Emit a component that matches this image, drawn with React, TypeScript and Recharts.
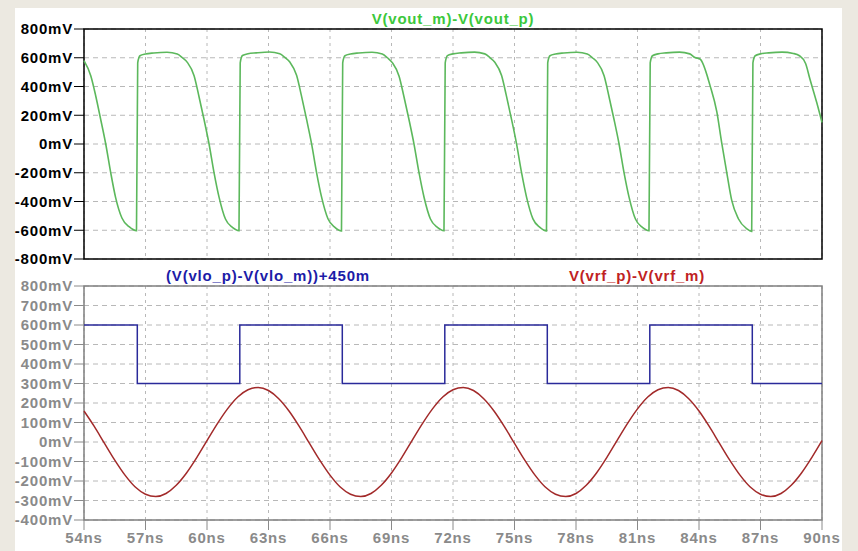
import { LineChart, Line, XAxis, YAxis, CartesianGrid, ReferenceArea } from 'recharts';

// time axis, ns
const timeTicks = [54, 57, 60, 63, 66, 69, 72, 75, 78, 81, 84, 87, 90];
// upper pane, mV
const voutTicks = [-800, -600, -400, -200, 0, 200, 400, 600, 800];
// lower pane, mV
const lowerTicks = [-400, -300, -200, -100, 0, 100, 200, 300, 400, 500, 600, 700, 800];

// V(vout_m)-V(vout_p)  [ns, mV]
const vout: [number, number][] = [
  [54.0, 580], [54.33, 475], [54.57, 336], [54.81, 174], [55.06, 0], [55.3, -197], [55.54, -371], [55.85, -515], [56.2, -575], [56.56, -603],
  [56.62, 565], [56.73, 614], [57.0, 626], [57.4, 633], [58.05, 638], [58.55, 626], [58.8, 600], [59.04, 568], [59.37, 475], [59.6, 336], [59.85, 174], [60.1, 0], [60.34, -197], [60.59, -371], [60.9, -522], [61.24, -580], [61.56, -603],
  [61.62, 565], [61.73, 616], [62.0, 628], [62.4, 634], [63.05, 640], [63.55, 628], [63.8, 602], [64.04, 570], [64.37, 478], [64.6, 340], [64.85, 176], [65.1, 2], [65.34, -195], [65.59, -370], [65.9, -520], [66.24, -580], [66.56, -605],
  [66.62, 565], [66.73, 614], [67.0, 626], [67.4, 633], [68.05, 638], [68.55, 626], [68.8, 600], [69.04, 566], [69.37, 472], [69.6, 334], [69.85, 172], [70.1, -2], [70.34, -198], [70.59, -372], [70.9, -522], [71.24, -580], [71.56, -603],
  [71.62, 565], [71.73, 615], [72.0, 627], [72.4, 634], [73.05, 639], [73.55, 627], [73.8, 601], [74.04, 569], [74.37, 476], [74.6, 338], [74.85, 175], [75.1, 1], [75.34, -196], [75.59, -371], [75.9, -521], [76.24, -580], [76.56, -604],
  [76.62, 565], [76.73, 614], [77.0, 626], [77.4, 633], [78.05, 638], [78.55, 626], [78.8, 600], [79.04, 568], [79.37, 475], [79.6, 336], [79.85, 174], [80.1, 0], [80.34, -197], [80.59, -371], [80.9, -522], [81.24, -580], [81.56, -603],
  [81.62, 565], [81.73, 614], [82.0, 627], [82.4, 634], [83.05, 639], [83.55, 627], [83.8, 602], [84.05, 591], [84.54, 406], [84.87, 223], [85.1, 14], [85.35, -195], [85.6, -394], [85.92, -520], [86.33, -590], [86.57, -608],
  [86.63, 565], [86.74, 614], [87.0, 627], [87.4, 634], [88.05, 639], [88.6, 630], [88.9, 614], [89.2, 560], [89.41, 452], [89.74, 290], [90.0, 150],
];

// (V(vlo_p)-V(vlo_m))+450m  [ns, mV], value holds until the next edge
const vlo: [number, number][] = [
  [54, 600], [56.6, 300], [61.6, 600], [66.6, 300], [71.6, 600], [76.6, 300], [81.6, 600], [86.6, 300], [90, 300],
];

// V(vrf_p)-V(vrf_m)  [ns, mV]
const vrf: [number, number][] = [
  [54, 159], [54.5, 80], [55, -7], [55.5, -93], [56, -170], [56.5, -231], [57, -268], [57.5, -280], [58, -264], [58.5, -222],
  [59, -159], [59.5, -80], [60, 7], [60.5, 93], [61, 170], [61.5, 231], [62, 268], [62.5, 280], [63, 264], [63.5, 222],
  [64, 159], [64.5, 80], [65, -7], [65.5, -93], [66, -170], [66.5, -231], [67, -268], [67.5, -280], [68, -264], [68.5, -222],
  [69, -159], [69.5, -80], [70, 7], [70.5, 93], [71, 170], [71.5, 231], [72, 268], [72.5, 280], [73, 264], [73.5, 222],
  [74, 159], [74.5, 80], [75, -7], [75.5, -93], [76, -170], [76.5, -231], [77, -268], [77.5, -280], [78, -264], [78.5, -222],
  [79, -159], [79.5, -80], [80, 7], [80.5, 93], [81, 170], [81.5, 231], [82, 268], [82.5, 280], [83, 264], [83.5, 222],
  [84, 159], [84.5, 80], [85, -7], [85.5, -93], [86, -170], [86.5, -231], [87, -268], [87.5, -280], [88, -264], [88.5, -222],
  [89, -159], [89.5, -80], [90, 7],
];

const toRows = (pts: [number, number][]) => pts.map(([t, v]) => ({ t, v }));

const FONT = '"Liberation Sans", Arial, sans-serif';
const GRID = '#b8b8b8';
const GREY = '#8a8a8a';

const tickFont = (fill: string) => ({
  fill,
  fontSize: 15,
  fontWeight: 700,
  fontFamily: FONT,
  letterSpacing: 0.8,
});

const title = (text: string, color: string, cx: number, top: number) => (
  <div
    style={{
      position: 'absolute',
      left: cx - 200,
      top,
      width: 400,
      textAlign: 'center',
      color,
      fontFamily: FONT,
      fontWeight: 700,
      fontSize: 15,
      lineHeight: '15px',
      letterSpacing: 0.8,
    }}
  >
    {text}
  </div>
);

export default function App() {
  return (
    <div
      style={{
        position: 'absolute',
        left: 0,
        top: 0,
        width: 858,
        height: 551,
        background: '#ECE9E1',
        overflow: 'hidden',
      }}
    >
      <div style={{ position: 'absolute', left: 15, top: 8, width: 827, height: 543, background: '#fff' }} />

      {/* upper pane: output */}
      <div style={{ position: 'absolute', left: 0, top: 0 }}>
        <LineChart width={858} height={270} margin={{ top: 29, right: 36, bottom: 11, left: 14 }}>
          <CartesianGrid vertical={false} stroke={GRID} strokeDasharray="5 4" />
          <CartesianGrid horizontal={false} stroke={GRID} strokeDasharray="3 4" />
          <XAxis dataKey="t" type="number" domain={[54, 90]} ticks={timeTicks} hide allowDuplicatedCategory={false} />
          <YAxis
            type="number"
            domain={[-800, 800]}
            ticks={voutTicks}
            width={70}
            axisLine={false}
            tickSize={10}
            tickMargin={1}
            tickLine={{ stroke: '#000' }}
            tick={tickFont('#000')}
            tickFormatter={(v: number) => `${v}mV`}
            interval={0}
          />
          <ReferenceArea x1={54} x2={90} y1={-800} y2={800} fill="none" stroke="#000" strokeWidth={1.5} ifOverflow="visible" />
          <Line
            data={toRows(vout)}
            dataKey="v"
            type="monotone"
            stroke="#5cb85c"
            strokeWidth={1.6}
            dot={false}
            isAnimationActive={false}
          />
        </LineChart>
      </div>

      {/* lower pane: LO and RF inputs */}
      <div style={{ position: 'absolute', left: 0, top: 259 }}>
        <LineChart width={858} height={292} margin={{ top: 27, right: 36, bottom: 6, left: 14 }}>
          <CartesianGrid vertical={false} stroke={GRID} strokeDasharray="5 4" />
          <CartesianGrid horizontal={false} stroke={GRID} strokeDasharray="3 4" />
          <XAxis
            dataKey="t"
            type="number"
            domain={[54, 90]}
            ticks={timeTicks}
            height={25}
            axisLine={false}
            tickSize={10}
            tickMargin={2}
            tickLine={{ stroke: GREY }}
            tick={tickFont(GREY)}
            tickFormatter={(v: number) => `${v}ns`}
            interval={0}
          />
          <YAxis
            type="number"
            domain={[-400, 800]}
            ticks={lowerTicks}
            width={70}
            axisLine={false}
            tickSize={10}
            tickMargin={1}
            tickLine={{ stroke: GREY }}
            tick={tickFont(GREY)}
            tickFormatter={(v: number) => `${v}mV`}
            interval={0}
          />
          <ReferenceArea x1={54} x2={90} y1={-400} y2={800} fill="none" stroke="#808080" strokeWidth={1.5} ifOverflow="visible" />
          <Line
            data={toRows(vlo)}
            dataKey="v"
            type="stepAfter"
            stroke="#2a2a9a"
            strokeWidth={1.5}
            dot={false}
            isAnimationActive={false}
          />
          <Line
            data={toRows(vrf)}
            dataKey="v"
            type="monotone"
            stroke="#a22a2a"
            strokeWidth={1.5}
            dot={false}
            isAnimationActive={false}
          />
        </LineChart>
      </div>

      {title('V(vout_m)-V(vout_p)', '#3cc83c', 453, 11)}
      {title('(V(vlo_p)-V(vlo_m))+450m', '#1c1ca8', 268, 268)}
      {title('V(vrf_p)-V(vrf_m)', '#c02222', 637, 268)}
    </div>
  );
}
